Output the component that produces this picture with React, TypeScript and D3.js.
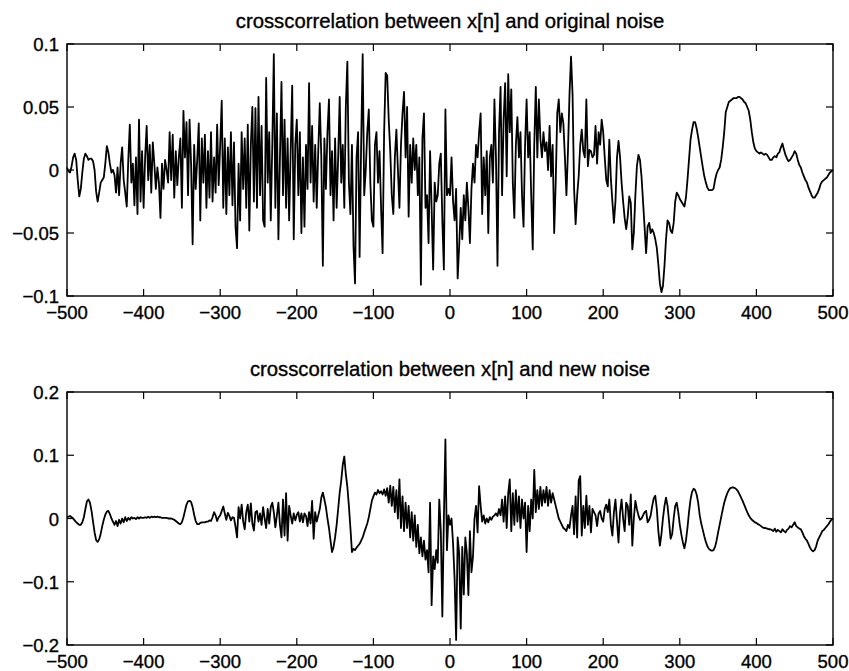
import React from 'react';
import * as d3 from 'd3';

// lag axis
const LAG_START = -500;
const LAG_STEP = 2;
const xTicks = [-500, -400, -300, -200, -100, 0, 100, 200, 300, 400, 500];
const topYTicks = [-0.1, -0.05, 0, 0.05, 0.1];
const bottomYTicks = [-0.2, -0.1, 0, 0.1, 0.2];
const topTitle = 'crosscorrelation between x[n] and original noise';
const bottomTitle = 'crosscorrelation between x[n] and new noise';

// values in thousandths, lag -500..500 step 2
const originalNoiseXcorr = [
  2, -1, -2, 3, 10, 13, 8, -8, -21, -15,
  -2, 9, 13, 11, 8, 9, 9, 7, 0, -17,
  -25, -18, -10, -8, -6, 5, 19, 14, 5, -2,
  0, -4, -18, 2, -20, 5, 18, -8, -18, -29,
  8, 36, -10, 5, -28, 10, -35, 40, -25, 15,
  -30, 10, 35, -8, 20, -18, 22, 5, -15, 2,
  -10, -38, 5, -15, 8, 0, -10, 30, -8, 28,
  -22, 15, -12, 10, 25, -30, 47, 10, 38, -20,
  40, 5, -59, 20, -15, 8, 37, -40, 25, -10,
  28, -30, 15, -22, 30, -25, 10, -18, 36, -12,
  20, 55, -30, 25, -35, 18, -20, 30, -28, 22,
  -45, -62, 5, -40, 30, -15, 25, -30, 36, -48,
  20, 50, -25, 49, -30, 58, -20, 35, -40, -45,
  73, -10, 30, -40, 20, 92, -30, 45, -55, 10,
  70, -20, 40, -30, 25, -40, 15, 67, -55, 20,
  40, -20, 30, -50, 10, -45, 20, -15, 69, -10,
  35, -25, 20, -30, 15, 53, 10, -76, 25, -15,
  30, 56, -20, 15, -40, 25, -30, 10, 58, -10,
  20, -30, 50, 86, -10, -35, 20, -60, -90, 10,
  30, -69, 20, 92, -20, 0, 30, 48, -10, -40,
  -45, 20, 30, -10, 15, -30, -66, 30, 77, 75,
  40, 15, -20, -35, 10, 32, 0, -30, 20, 45,
  62, 10, 50, -37, 20, -10, 25, 0, 20, -20,
  10, -91, 25, 45, -30, -20, -58, 15, -30, -79,
  -10, -25, -20, 5, 13, -40, -79, 48, -20, -15,
  -20, 10, -25, -40, -15, -86, -60, -30, -55, -20,
  -40, -10, -30, -58, -15, 5, -10, 20, 10, 30,
  45, -35, 10, -20, 15, -50, 10, 20, -10, 56,
  10, -76, 30, 66, -20, 40, 69, -5, 76, 30,
  64, -10, -38, 20, 42, 10, 30, -20, -45, 20,
  56, 10, 30, -20, -63, 20, 66, 10, 56, 25,
  10, 30, 15, 22, 0, 35, -5, 20, -50, -10,
  45, 56, 30, 45, 37, 10, -20, 15, 60, 90,
  60, -15, -43, -20, -5, 20, 32, 15, 10, 56,
  3, 16, 15, 10, 12, 35, 5, 30, 20, 40,
  30, 10, -8, -13, 24, -7, -25, -42, -25, 10,
  23, 10, -10, -25, -38, -47, -37, -21, -26, -63,
  -50, -20, 3, 12, 8, -5, -25, -45, -66, -45,
  -42, -50, -47, -50, -55, -62, -75, -90, -97, -92,
  -76, -55, -40, -42, -48, -50, -42, -25, -18, -20,
  -23, -25, -27, -29, -22, -8, 8, 24, 32, 38,
  38, 33, 26, 18, 10, 2, -5, -10, -14, -16,
  -16, -16, -15, -8, -3, 0, 2, 8, 18, 30,
  46, 50, 54, 55, 56, 57, 57, 57, 58, 58,
  57, 56, 54, 53, 50, 47, 40, 30, 22, 17,
  15, 14, 13, 14, 13, 12, 13, 12, 10, 8,
  8, 10, 11, 10, 13, 14, 18, 21, 16, 12,
  9, 7, 8, 10, 12, 15, 13, 8, 4, 2,
  -2, -5, -8, -10, -14, -17, -20, -22, -22, -20,
  -18, -15, -11, -9, -8, -7, -6, -4, -2, -1,
  0,
];

const newNoiseXcorr = [
  2, 3, 4, 2, 0, -3, -6, -8, -10, -10,
  -6, 2, 15, 27, 30, 25, 12, -5, -22, -34,
  -37, -33, -24, -12, -2, 6, 11, 12, 7, 0,
  -5, -10, -4, -12, -2, -8, 0, -6, 2, -4,
  1, -2, 2, 0, 1, -1, 2, 0, 2, 1,
  1, 2, 1, 3, 1, 3, 2, 3, 2, 3,
  2, 2, 1, 1, 1, 1, 0, 0, 0, -1,
  -2, -4, -6, -8, -9, -6, 2, 12, 22, 27,
  28, 26, 18, 6, -4, -9, -9, -7, -6, -6,
  -6, -5, -5, -3, -4, 2, 10, 5, -4, 2,
  5, 12, 19, 8, -2, 9, 4, -3, 2, 1,
  -13, -30, 18, 0, 22, -5, -17, 10, 22, -5,
  24, -8, -19, 10, 12, -5, 8, -10, 18, 0,
  -15, 15, -8, 18, 25, 10, -14, 5, 25, -10,
  -30, 30, -27, 40, -35, 20, 5, -8, 8, -3,
  6, 10, -5, 8, -6, 8, 4, -12, 10, -8,
  28, -32, 10, -5, 5, 15, 33, 41, 30, 18,
  0, -15, -35, -53, -45, -30, -10, 15, 41, 60,
  85, 98, 70, 50, 20, -15, -53, -48, -50, -46,
  -43, -40, -35, -30, -22, -15, -8, 2, 15, 28,
  35, 41, 38, 45, 40, 43, 38, 46, 36, 48,
  25, 52, 20, 50, 10, 45, 0, 62, -15, 35,
  -20, 25, -15, 20, -30, 10, -35, 5, -45, -10,
  -55, -30, -60, -35, -65, -50, -85, 25, -137, -60,
  -80, -50, -70, 30, -20, -155, 0, 125, -50, 5,
  -10, 0, -40, -95, -192, -30, -55, -174, -45, -120,
  -30, -55, -121, -20, -85, -60, 0, 20, -22, 51,
  20, -5, 5, -8, 0, -6, 2, -2, 3, 5,
  8, 4, 15, 5, 30, -5, 35, -15, 40, 62,
  -20, 40, -10, 45, -5, 35, -15, 30, 0, 25,
  -53, 20, -20, 30, 0, 77, 10, 45, 15, 50,
  20, 45, 25, 50, 20, 45, 25, 40, 30, 20,
  10, 0, -5, -10, -15, -17, -20, -10, -15, 5,
  20, -25, 35, -30, 60, 67, -27, 20, -15, 36,
  -10, 20, -22, 15, 10, 5, -12, 8, 12, 0,
  -5, 15, 22, 10, 30, -10, -27, 10, 30, -5,
  -38, 10, 30, 0, -20, 25, 20, -10, 38, -43,
  0, 28, 15, 5, -2, 0, 5, 10, 12, -6,
  -2, 5, 20, 32, 36, 15, -20, -43, -25, 0,
  20, 33, 20, -5, -32, -25, 0, 20, 25, 10,
  -10, -25, -38, -47, -35, -15, 10, 30, 42, 47,
  45, 38, 25, 5, -8, -18, -28, -37, -44, -48,
  -50, -51, -50, -45, -35, -22, -10, 2, 14, 25,
  33, 40, 45, 48, 49, 49, 48, 46, 43, 38,
  33, 28, 22, 16, 10, 5, 1, -2, -4, -6,
  -7, -9, -10, -12, -14, -15, -15, -16, -17, -17,
  -18, -20, -16, -21, -18, -20, -22, -17, -20, -22,
  -18, -16, -12, -14, -10, -6, -12, -14, -16, -17,
  -22, -28, -32, -35, -40, -46, -50, -52, -50, -44,
  -35, -30, -25, -20, -18, -15, -12, -9, -5, -2,
  0,
];

const W = 849;
const H = 671;
const LEFT = 67;
const RIGHT = 833;
const FONT = "'Liberation Sans', Arial, Helvetica, sans-serif";
const TICK_LEN = 7;

const fmt = (v: number) => {
  const s = String(Math.abs(Math.round(v * 1000) / 1000));
  return v < 0 ? '\u2212' + s : s;
};

type PanelProps = {
  top: number;
  bottom: number;
  domain: [number, number];
  yTicks: number[];
  values: number[];
  title: string;
  titleY: number;
};

function Panel({ top, bottom, domain, yTicks, values, title, titleY }: PanelProps) {
  const x = d3.scaleLinear().domain([-500, 500]).range([LEFT, RIGHT]);
  const y = d3.scaleLinear().domain(domain).range([bottom, top]);
  const pts: [number, number][] = values.map((v, i) => [LAG_START + i * LAG_STEP, v / 1000]);
  const line = d3
    .line<[number, number]>()
    .x((d) => x(d[0]))
    .y((d) => y(d[1]));
  const textStroke = { stroke: '#000', strokeWidth: 0.35 };
  return (
    <g>
      <text x={(LEFT + RIGHT) / 2} y={titleY} textAnchor="middle" fontSize={20.3} fontFamily={FONT} fill="#000" {...textStroke}>
        {title}
      </text>
      <path d={line(pts) || ''} fill="none" stroke="#000" strokeWidth={1.8} strokeLinejoin="round" />
      <rect x={LEFT} y={top} width={RIGHT - LEFT} height={bottom - top} fill="none" stroke="#000" strokeWidth={1.4} />
      {xTicks.map((t) => (
        <g key={'x' + t}>
          <line x1={x(t)} x2={x(t)} y1={bottom} y2={bottom - TICK_LEN} stroke="#000" strokeWidth={1.2} />
          <line x1={x(t)} x2={x(t)} y1={top} y2={top + TICK_LEN} stroke="#000" strokeWidth={1.2} />
          <text x={x(t)} y={bottom + 23} textAnchor="middle" fontSize={18.5} fontFamily={FONT} fill="#000" {...textStroke}>
            {fmt(t)}
          </text>
        </g>
      ))}
      {yTicks.map((t) => (
        <g key={'y' + t}>
          <line x1={LEFT} x2={LEFT + TICK_LEN} y1={y(t)} y2={y(t)} stroke="#000" strokeWidth={1.2} />
          <line x1={RIGHT} x2={RIGHT - TICK_LEN} y1={y(t)} y2={y(t)} stroke="#000" strokeWidth={1.2} />
          <text x={LEFT - 8} y={y(t) + 7} textAnchor="end" fontSize={18.5} fontFamily={FONT} fill="#000" {...textStroke}>
            {fmt(t)}
          </text>
        </g>
      ))}
    </g>
  );
}

export default function App() {
  return (
    <svg
      width={W}
      height={H}
      viewBox={`0 0 ${W} ${H}`}
      style={{ position: 'absolute', left: 0, top: 0, background: '#fff' }}
    >
      <rect x={0} y={0} width={W} height={H} fill="#fff" />
      <Panel
        top={44}
        bottom={296}
        domain={[-0.1, 0.1]}
        yTicks={topYTicks}
        values={originalNoiseXcorr}
        title={topTitle}
        titleY={28}
      />
      <Panel
        top={392}
        bottom={645}
        domain={[-0.2, 0.2]}
        yTicks={bottomYTicks}
        values={newNoiseXcorr}
        title={bottomTitle}
        titleY={376}
      />
    </svg>
  );
}
